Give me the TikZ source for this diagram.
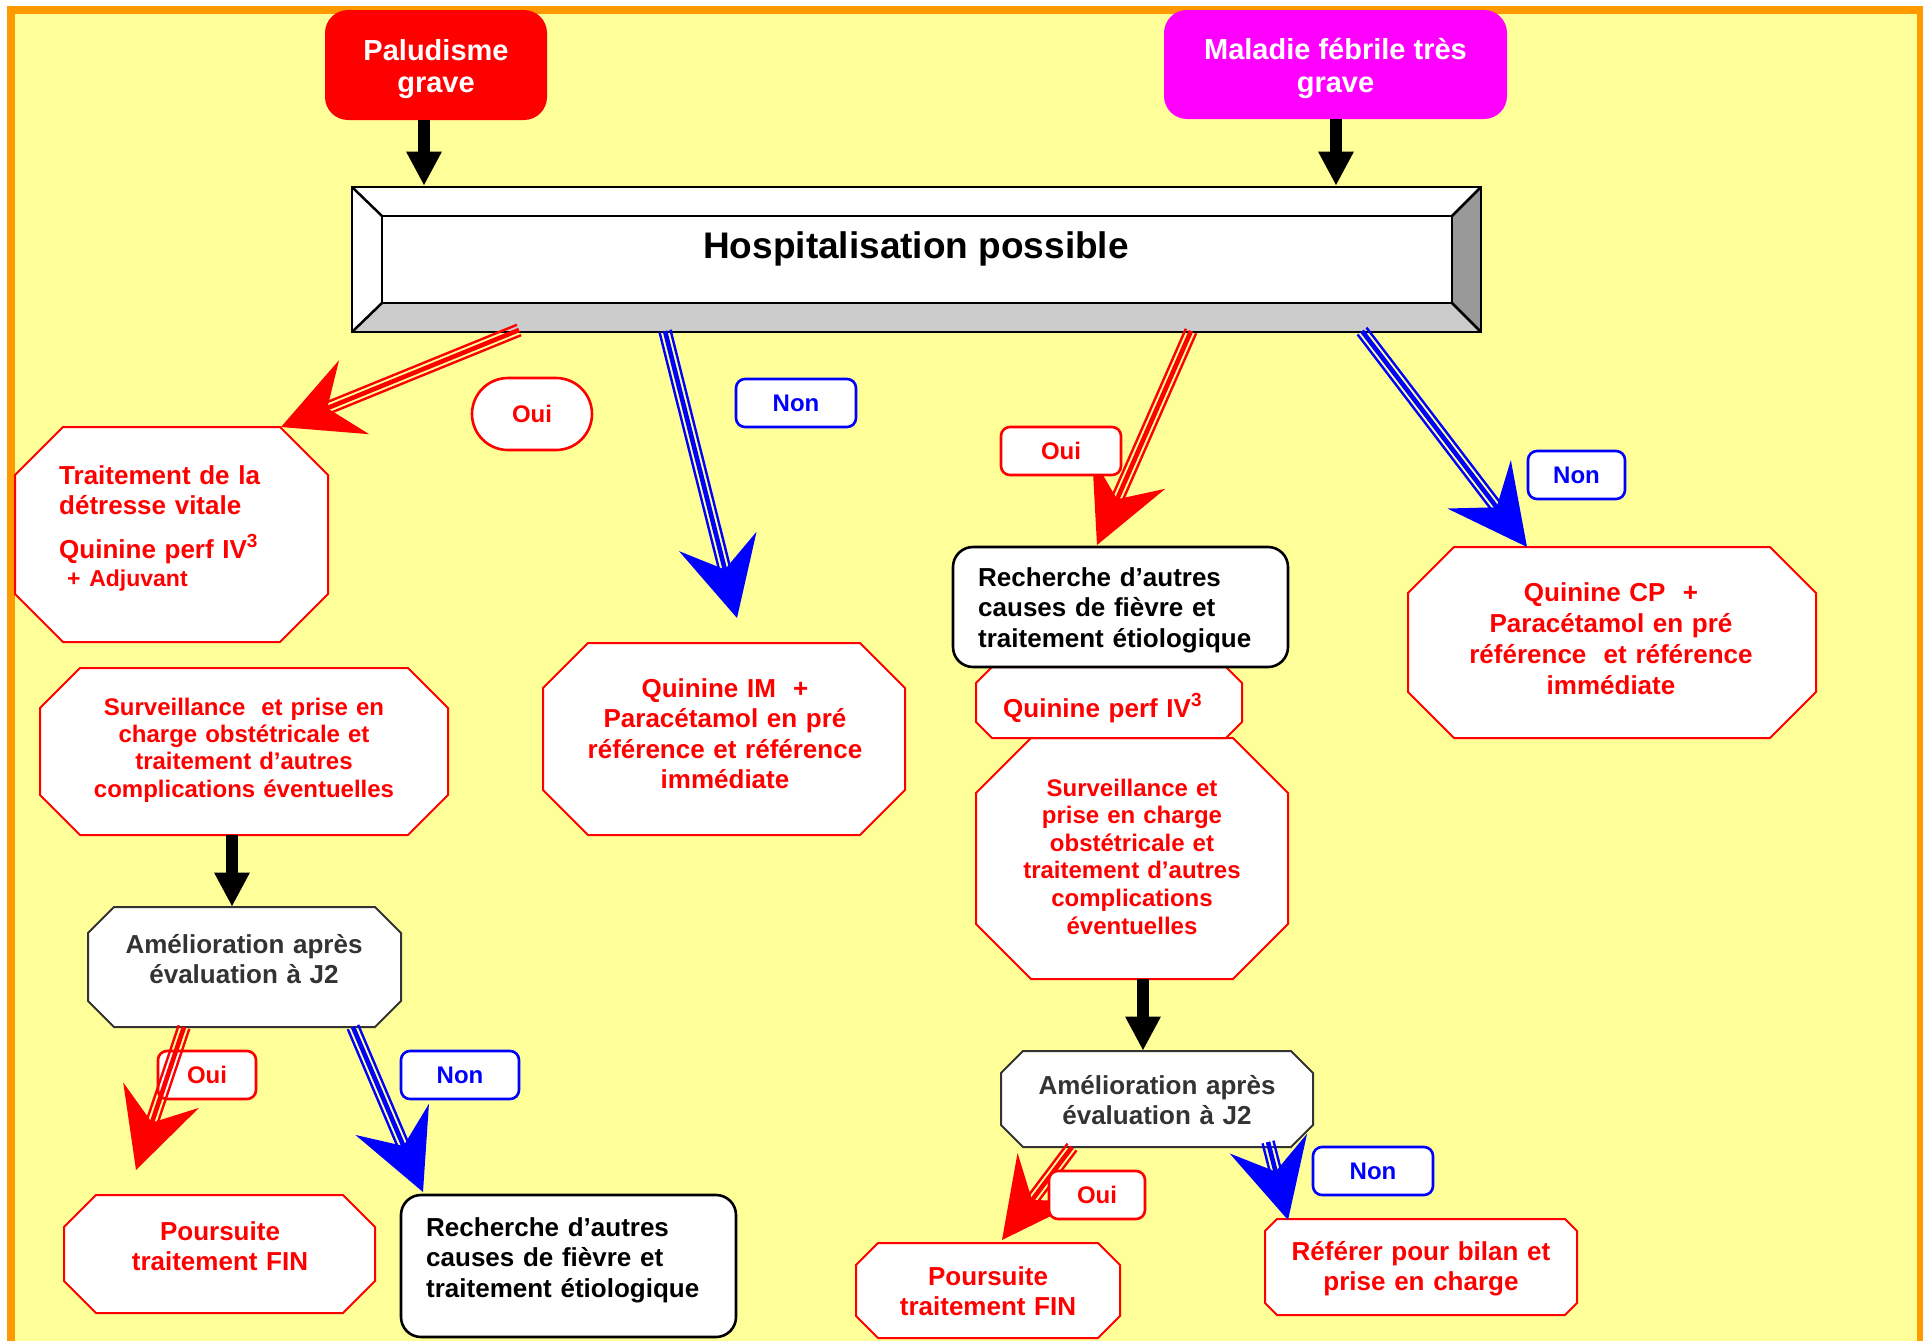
\documentclass[tikz,border=0pt]{standalone}
\usepackage{fontspec}
\setmainfont{Liberation Sans}
\usetikzlibrary{calc}

\definecolor{bgyellow}{HTML}{FFFF99}
\definecolor{frameorange}{HTML}{FF9900}
\definecolor{alertred}{HTML}{FF0000}
\definecolor{fuchsia}{HTML}{FF00FF}
\definecolor{nonblue}{HTML}{0000FF}
\definecolor{bevelbot}{HTML}{CCCCCC}
\definecolor{bevelside}{HTML}{999999}
\definecolor{evalgray}{HTML}{333333}

% octagon: style, x1, y1, x2, y2, corner cut
\newcommand{\octagon}[6]{%
  \filldraw[#1] ({#2+#6},#3) -- ({#4-#6},#3) -- (#4,{#3+#6}) -- (#4,{#5-#6})
    -- ({#4-#6},#5) -- ({#2+#6},#5) -- (#2,{#5-#6}) -- (#2,{#3+#6}) -- cycle;}

% triple-line arrow with a notched head: colour, start, tip
\newcommand{\triarrow}[3]{%
  \coordinate (tri-end) at ($(#3)!46pt!(#2)$);
  \draw[#1, line width=4.6pt] (#2) -- (tri-end);
  \draw[#1, line width=2.4pt] ($(#2)!5.6pt!90:(tri-end)$) -- ($(tri-end)!5.6pt!-90:(#2)$);
  \draw[#1, line width=2.4pt] ($(#2)!5.6pt!-90:(tri-end)$) -- ($(tri-end)!5.6pt!90:(#2)$);
  \fill[#1] (#3) -- ($(#3)!88.5pt!26.85:(#2)$) -- ($(#3)!50pt!(#2)$)
    -- ($(#3)!88.5pt!-26.85:(#2)$) -- cycle;}

% thick black arrow: start, tip
\newcommand{\blackarrow}[2]{%
  \draw[line width=11.5pt] (#1) -- ($(#2)!30pt!(#1)$);
  \fill (#2) -- ($(#2)!38pt!28.25:(#1)$) -- ($(#2)!38pt!-28.25:(#1)$) -- cycle;}

\newcommand{\supthree}{\raisebox{11pt}{\fontsize{19}{20}\selectfont 3}}
\newcommand{\topstrut}{\rule{0pt}{29.5pt}}

\tikzset{
  txt/.style={inner sep=0pt},
  fbig/.style={font=\bfseries\fontsize{26}{30.6}\selectfont},
  fsmall/.style={font=\bfseries\fontsize{24}{27.4}\selectfont},
  ctext/.style={txt, anchor=base, align=center, text width=#1},
  ltext/.style={txt, anchor=base west, align=left, text width=#1},
  titlebox/.style={rounded corners=23pt, inner sep=0pt, text=white, align=center,
    font=\bfseries\fontsize{29}{32.5}\selectfont},
  tag/.style={draw, line width=2.6pt, fill=white, rounded corners=9pt, inner sep=0pt,
    font=\bfseries\fontsize{24}{28}\selectfont},
  ouitag/.style={tag, draw=alertred, text=alertred},
  nontag/.style={tag, draw=nonblue, text=nonblue},
  redoct/.style={draw=alertred, fill=white, line width=2pt},
  grayoct/.style={draw=evalgray, fill=white, line width=2pt},
  blackbox/.style={draw=black, fill=white, line width=2.6pt, rounded corners=20pt, inner sep=0pt},
}

\begin{document}
\begin{tikzpicture}[x=1pt, y=-1pt]
\useasboundingbox (0,0) rectangle (1923,1341);
\clip (0,0) rectangle (1923,1341);
\fill[white] (0,0) rectangle (1923,1341);
\filldraw[fill=bgyellow, draw=frameorange, line width=8pt] (11,10) rectangle (1921,1345);

% entry boxes
\node[titlebox, fill=alertred, minimum width=222pt, minimum height=110pt] (palu) at (436,65)
  {\topstrut Paludisme\\grave};
\node[titlebox, fill=fuchsia, minimum width=343pt, minimum height=109pt] (fievre) at (1335.5,64.5)
  {\topstrut Maladie fébrile très\\grave};

% bevelled hospitalisation panel
\fill[white] (352,187) rectangle (1481,332);
\fill[bevelbot] (352,332) -- (382,303) -- (1452,303) -- (1481,332) -- cycle;
\fill[bevelside] (1481,187) -- (1452,216) -- (1452,303) -- (1481,332) -- cycle;
\begin{scope}[line width=2.5pt]
  \draw (352,187) rectangle (1481,332);
  \draw (382,216) rectangle (1452,303);
  \draw (352,187) -- (382,216);
  \draw (1481,187) -- (1452,216);
  \draw (352,332) -- (382,303);
  \draw (1481,332) -- (1452,303);
\end{scope}
\node[txt, anchor=base, font=\bfseries\fontsize{37}{44}\selectfont] (hosp) at (916,258) {Hospitalisation possible};

\coordinate (palu-out) at (424,120);
\coordinate (hosp-inL) at (424,185);
\coordinate (fievre-out) at (1336,119);
\coordinate (hosp-inR) at (1336,185);
\blackarrow{palu-out}{hosp-inL}
\blackarrow{fievre-out}{hosp-inR}

% left branch
\octagon{redoct}{15}{427}{328}{642}{48}
\node[ltext=270pt, fbig, text=alertred] (detresse) at (59,484)
  {Traitement de la\\détresse vitale\\[13pt]Quinine perf IV\supthree\\[-2pt]\hspace*{8pt}{\fontsize{23}{27}\selectfont + Adjuvant}};

\octagon{redoct}{40}{668}{448}{835}{40}
\node[ctext=400pt, fsmall, text=alertred] (surv1) at (244,715)
  {Surveillance~~et prise en\\charge obstétricale et\\traitement d’autres\\complications éventuelles};

\octagon{grayoct}{88}{907}{401}{1027}{26}
\node[ctext=300pt, fbig, text=evalgray] (eval1) at (244,953) {Amélioration après\\évaluation à J2};

\octagon{redoct}{64}{1195}{375}{1313}{32}
\node[ctext=300pt, fbig, text=alertred] (fin1) at (220,1240) {Poursuite\\traitement FIN};

\node[blackbox, minimum width=335pt, minimum height=142pt] (rech2box) at (568.5,1266) {};
\node[ltext=320pt, fbig] (rech2) at (426,1236) {Recherche d’autres\\causes de fièvre et\\traitement étiologique};

\coordinate (surv1-out) at (232,835);
\coordinate (eval1-in) at (232,906);
\blackarrow{surv1-out}{eval1-in}

% middle branch
\octagon{redoct}{543}{643}{905}{835}{45}
\node[ctext=340pt, fbig, text=alertred] (qim) at (725,697)
  {Quinine IM~~+\\Paracétamol en pré\\référence et référence\\immédiate};

% right branch
\octagon{redoct}{976}{738}{1288}{979}{55}
\octagon{redoct}{976}{667}{1242}{738}{16}
\node[blackbox, minimum width=335pt, minimum height=120pt] (rech1box) at (1120.5,607) {};
\node[ltext=320pt, fbig] (rech1) at (978,586) {Recherche d’autres\\causes de fièvre et\\traitement étiologique};
\node[ltext=260pt, fbig, text=alertred] (qperf) at (1003,717) {Quinine perf IV\supthree};
\node[ctext=300pt, font=\bfseries\fontsize{24}{27.6}\selectfont, text=alertred] (surv2) at (1132,796)
  {Surveillance et\\prise en charge\\obstétricale et\\traitement d’autres\\complications\\éventuelles};

\coordinate (surv2-out) at (1143,979);
\coordinate (eval2-in) at (1143,1050);
\blackarrow{surv2-out}{eval2-in}

\octagon{grayoct}{1001}{1051}{1313}{1147}{22}
\node[ctext=300pt, fbig, text=evalgray] (eval2) at (1157,1094) {Amélioration après\\évaluation à J2};

\octagon{redoct}{856}{1243}{1120}{1338}{22}
\node[ctext=250pt, fbig, text=alertred] (fin2) at (988,1285) {Poursuite\\traitement FIN};

\octagon{redoct}{1265}{1219}{1577}{1315}{12}
\node[ctext=300pt, fbig, text=alertred] (referer) at (1421,1260) {Référer pour bilan et\\prise en charge};

\octagon{redoct}{1408}{547}{1816}{738}{46}
\node[ctext=390pt, font=\bfseries\fontsize{26}{31}\selectfont, text=alertred] (qcp) at (1611,601)
  {Quinine CP~~+\\Paracétamol en pré\\référence~~et référence\\immédiate};

% answer tags under the arrows
\node[ouitag, rounded corners=36pt, minimum width=120pt, minimum height=72pt] (oui1) at (532,414) {Oui};
\node[nontag, minimum width=120pt, minimum height=48pt] (non1) at (796,403) {Non};
\node[nontag, minimum width=97pt, minimum height=48pt] (non3) at (1576.5,475) {Non};
\node[ouitag, minimum width=98pt, minimum height=48pt] (oui2) at (207,1075) {Oui};
\node[nontag, minimum width=118pt, minimum height=48pt] (non2) at (460,1075) {Non};
\node[nontag, minimum width=120pt, minimum height=48pt] (non4) at (1373,1171) {Non};

% decision arrows
\coordinate (a-s) at (519,330);  \coordinate (a-t) at (281,427);
\coordinate (b-s) at (665,331);  \coordinate (b-t) at (737,618);
\coordinate (c-s) at (1191,331); \coordinate (c-t) at (1097,545);
\coordinate (d-s) at (1362,331); \coordinate (d-t) at (1527,547);
\coordinate (e-s) at (184,1027); \coordinate (e-t) at (136,1170);
\coordinate (f-s) at (353,1027); \coordinate (f-t) at (423,1192);
\coordinate (g-s) at (1072,1147); \coordinate (g-t) at (1002,1240);
\coordinate (h-s) at (1268,1142); \coordinate (h-t) at (1288,1220);
\triarrow{alertred}{a-s}{a-t}
\triarrow{nonblue}{b-s}{b-t}
\triarrow{alertred}{c-s}{c-t}
\triarrow{nonblue}{d-s}{d-t}
\triarrow{alertred}{e-s}{e-t}
\triarrow{nonblue}{f-s}{f-t}
\triarrow{alertred}{g-s}{g-t}
\triarrow{nonblue}{h-s}{h-t}

\node[ouitag, minimum width=120pt, minimum height=48pt] (oui3) at (1061,451) {Oui};
\node[ouitag, minimum width=96pt, minimum height=48pt] (oui4) at (1097,1195) {Oui};
\end{tikzpicture}
\end{document}
